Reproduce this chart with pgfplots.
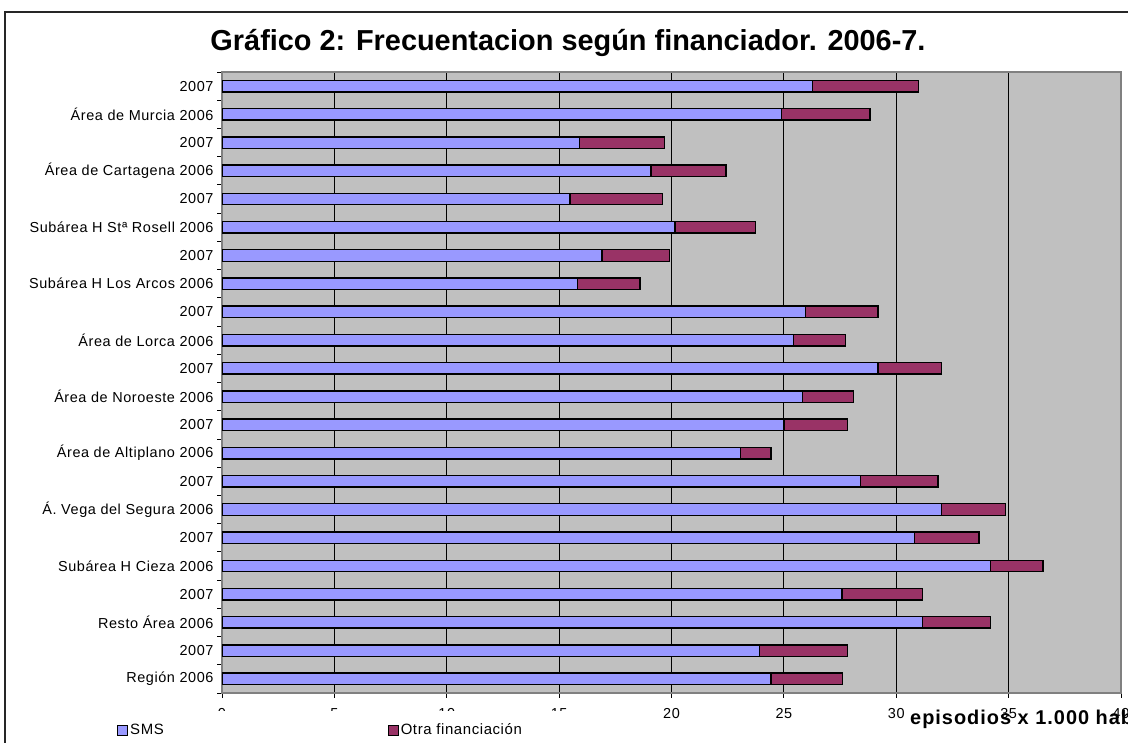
\documentclass[border=0pt]{standalone}
\usepackage{fontspec}
\setmainfont{Liberation Sans}
\usepackage{pgfplots}
\pgfplotsset{compat=1.18}
\definecolor{smsblue}{HTML}{9999FF}
\definecolor{otrared}{HTML}{993366}
\definecolor{plotgray}{HTML}{C0C0C0}
\definecolor{bordgray}{HTML}{808080}
\newfontfamily\spacedfont[LetterSpace=4]{Liberation Sans}
\newfontfamily\spacedbold[LetterSpace=5]{Liberation Sans Bold}
\begin{document}
\begin{tikzpicture}[x=1bp,y=1bp]
\path[use as bounding box, clip] (0,0) rectangle (1128,743);
\fill[white] (0,0) rectangle (1128,743);
\draw[line width=1.5bp, black!85] (5,-5) -- (5,731) -- (1140,731);
\node[font=\bfseries\fontsize{29}{33}\selectfont, anchor=base] at (568,692) {Gráfico 2: Frecuentacion según financiador. 2006-7.};
\begin{axis}[
  at={(222bp,50bp)}, anchor=south west,
  scale only axis, width=899bp, height=621bp,
  xbar stacked, bar width=11.5bp,
  xmin=0, xmax=40, ymin=-0.5, ymax=21.5,
  xtick={0,5,...,40},
  xmajorgrids, major grid style={black, line width=0.8bp},
  ytick={0,...,21},
  yticklabels={Región 2006,2007,Resto Área 2006,2007,Subárea H Cieza 2006,2007,Á. Vega del Segura 2006,2007,Área de Altiplano 2006,2007,Área de Noroeste 2006,2007,Área de Lorca 2006,2007,Subárea H Los Arcos 2006,2007,Subárea H Stª Rosell 2006,2007,Área de Cartagena 2006,2007,Área de Murcia 2006,2007},
  minor ytick={-0.5,0.5,...,21.5},
  major tick length=5bp, minor tick length=5bp,
  tick align=outside,
  xtick pos=bottom, ytick pos=left,
  y tick style={draw=none},
  minor y tick style={draw=black, line width=0.8bp},
  x tick style={black, line width=0.8bp},
  tick label style={font=\spacedfont\fontsize{14.5}{16}\selectfont},
  xticklabel style={yshift=-7bp},
  /pgf/number format/assume math mode=true,
  axis line style={bordgray, line width=1.2bp},
  axis background/.style={fill=plotgray},
  legend columns=2,
  legend style={at={(axis description cs:-0.228,-0.0596)}, anchor=west, fill=white, draw=none,
    inner xsep=100bp, inner ysep=11bp, font=\spacedfont\fontsize{15}{17}\selectfont,
    /tikz/every even column/.append style={column sep=222bp}},
  legend image code/.code={\draw[#1, line width=1bp] (0bp,-5bp) rectangle (10bp,5bp);},
]
\addplot[fill=smsblue, draw=black, line width=1.4bp] coordinates {
(24.42,0) (23.91,1) (31.17,2) (27.58,3) (34.18,4) (30.82,5) (32.01,6) (28.41,7) (23.08,8) (25.00,9) (25.83,10)
(29.18,11) (25.43,12) (25.97,13) (15.81,14) (16.91,15) (20.16,16) (15.49,17) (19.08,18) (15.90,19) (24.90,20) (26.26,21)};
\addplot[fill=otrared, draw=black, line width=1.4bp] coordinates {
(3.19,0) (3.93,1) (3.02,2) (3.59,3) (2.34,4) (2.87,5) (2.85,6) (3.44,7) (1.34,8) (2.84,9) (2.27,10)
(2.83,11) (2.32,12) (3.21,13) (2.79,14) (3.00,15) (3.59,16) (4.11,17) (3.35,18) (3.79,19) (3.94,20) (4.74,21)};
\legend{SMS, Otra financiación}
\end{axis}
\node[font=\spacedbold\fontsize{20}{23}\selectfont, anchor=base west, inner sep=0pt] at (910,18) {episodios x 1.000 hab};
\end{tikzpicture}
\end{document}
